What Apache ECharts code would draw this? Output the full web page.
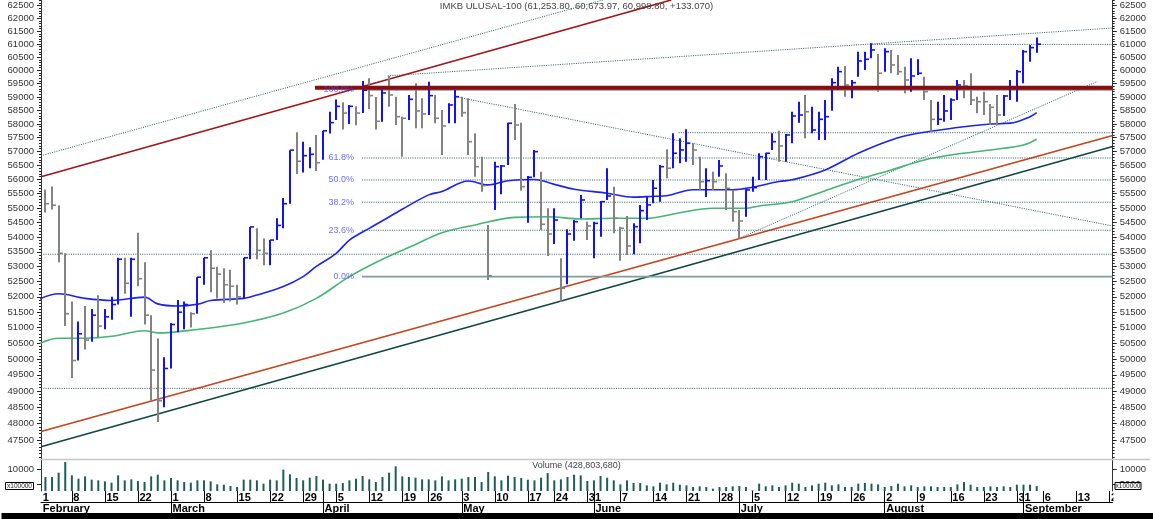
<!DOCTYPE html>
<html><head><meta charset="utf-8">
<script src="https://cdn.jsdelivr.net/npm/echarts@6/dist/echarts.min.js"></script>
<style>html,body{margin:0;padding:0;background:#fff}#c{width:1153px;height:519px}</style>
</head><body><div id="c"></div>
<script>
// ---------- DATA (index = trading day, 0 = 1 Feb) ----------
const highs = [null,
55650,55750,55100,53450,51850,51200,51700,51600,52050,51600,
52000,53300,53300,53300,54150,53150,51400,50650,50050,51150,
51900,51850,51500,52650,53300,53550,53000,52950,52900,52400,
53300,54350,54300,53950,53900,54650,55350,57050,57700,57350,
57150,57600,57750,58450,58900,58800,58700,58650,59600,59700,
59000,59324,59786,59009,58268,59073,59511,58950,59570,59073,
58516,58764,59260,59009,58950,57659,56815,54415,56635,56518,
58047,58738,58047,56126,57056,56279,54993,54993,53284,54268,
54586,55458,54528,54528,55247,56401,55749,54357,54721,54473,
55108,55400,55984,56518,57081,57659,57478,57806,57297,56815,
56401,56279,56696,56221,55633,54934,55658,56101,56937,56959,
57659,57756,57635,58453,58823,59073,58638,58453,58886,59699,
60139,60165,59634,60712,60712,61034,60623,60842,60777,60585,
60139,60458,60420,59759,58886,58823,59073,58950,59634,59634,
59888,59009,59197,58738,59073,59073,59634,60013,60777,60969,
61253.8];
const lows = [null,
54850,54950,53150,51050,49400,49950,50300,50550,50700,50950,
51250,51750,52100,51350,52350,51100,48700,48050,48500,49700,
50850,50950,51000,51450,52400,52150,51950,51800,51850,51750,
51950,53250,53250,53050,53050,53900,54300,55150,56200,56250,
56400,56300,56700,57650,58150,57800,58000,57950,58400,58550,
57800,58084,58638,57963,56815,58146,57843,57843,58331,58026,
56876,58026,58026,58268,56876,56101,55573,52555,54934,55482,
56518,57416,55608,54494,56085,54244,53362,53767,51841,52414,
53878,54645,53902,53284,54015,55282,54131,53203,53396,53419,
53791,54586,55167,55223,56044,56401,56579,56635,56518,55633,
55387,55633,56101,54934,54528,53940,54701,55573,55984,55984,
57056,56635,56635,57297,58047,57478,57660,57416,57416,58490,
59260,59009,58950,59759,60013,60458,59197,59949,59888,59823,
59137,59197,59823,58886,57700,57963,58084,58146,58886,58950,
58701,58394,58331,57963,57963,58294,58886,58823,59511,60328,
60673.97];
const closes = [null,
55150,55100,53450,51450,49950,50800,50600,51400,51050,51350,
51750,53250,52450,53250,52600,51400,49650,48700,49700,51100,
51500,51750,51450,52650,53300,52950,52750,52400,52350,52000,
53300,54350,53550,53450,53900,54400,55150,57050,56650,56850,
56900,56600,57750,58050,58650,58400,58650,58400,59250,59050,
58100,59150,59073,58268,58209,58912,58479,58368,59047,58209,
57927,58701,59009,58416,57355,56457,55784,52700,56457,56482,
58026,57963,55749,56080,56995,54439,54107,54586,52282,54107,
54528,55282,54381,54473,55223,55422,54645,54302,53700,54357,
54910,55108,55693,56457,56401,56937,57056,57297,57056,55924,
55959,55924,56482,55693,54875,54552,55633,55714,56815,56937,
57355,57200,57599,58294,58330,58453,57781,58172,58268,59533,
59949,59447,59533,60355,60420,60777,59888,60712,60203,59949,
59634,59786,59888,59197,58172,58172,58479,58886,59447,59410,
58886,58823,58823,58616,58331,59035,59324,59949,60712,60866,
60998.8];
// 1 = blue (up) bar, 0 = grey (down) bar
const barUp = [null,
0,0,0,0,0,1,0,1,0,1, 1,1,0,1,0,0,0,0,1,1, 1,1,0,1,1,0,0,0,0,0,
1,1,0,0,1,1,1,1,0,1, 1,0,1,1,1,0,1,0,1,0, 0,1,0,0,0,1,0,0,1,0,
0,1,1,0,0,0,0,0,1,1, 1,0,0,1,1,0,0,1,0,1, 1,1,0,1,1,1,0,0,0,1,
1,1,1,1,0,1,1,1,0,0, 1,0,1,0,0,0,1,1,1,1, 1,0,1,1,1,0,1,1,1,1,
1,0,1,1,1,1,0,1,0,0, 0,1,1,0,0,1,1,1,1,0, 0,0,0,0,0,1,1,1,1,1,1];
// volume in units of 100,000
const volumes = [null,
7379,7379,8852,12477,7945,6812,7605,6472,6246,5906,
5453,7945,6246,6586,6019,5679,7605,8172,6246,7039,
6246,5679,5453,6246,6246,5906,4886,4773,4320,3980,
6472,6472,6246,5113,6472,6246,9871,8285,7039,6246,
7152,7719,6472,5113,5113,5339,6246,6812,7719,6586,
5679,7379,8852,11004,
7605,7379,7152,6586,6586,6246,7605,6246,6586,6812,
7379,7379,5679,9078,7605,6246,7832,7379,7039,6472,
6246,7152,8738,6246,6586,7379,8172,7945,6019,6246,
7719,7152,6246,4886,6246,5339,5339,4546,4206,5453,
4886,5453,4773,4546,3980,4206,3980,3413,3980,3980,
4206,4320,3980,2847,5113,4206,4546,3980,
4546,5453,5113,3980,4546,5113,5453,4546,4886,3980,
3980,5113,5339,5113,4886,3980,4320,5113,4206,4546,
3980,4206,4206,3980,3980,3980,4886,5679,4773,3980,
3980,4206,3980,4206,3980,4773,4773,4773,4288];
// moving averages: [day index, value]
const blueMA = [[0,51920],[3,52100],[7,51950],[11,51880],[16,51990],[18,51770],[21,51700],[24,51760],[26,51880],[31,51950],[33,52060],[37,52340],[40,52670],[42,53010],[45,53450],[47,53900],[50,54300],[52,54560],[55,54960],[59,55460],[61,55580],[65,55950],[68,55810],[71,55960],[75,56000],[78,55830],[81,55660],[86,55520],[90,55380],[93,55410],[95,55430],[99,55640],[105,55640],[108,55730],[112,55930],[114,55990],[119,56340],[124,56940],[129,57420],[133,57660],[139,57870],[144,58000],[147,58030],[150,58270],[151,58420]];
const greenMA = [[0,50480],[3,50660],[7,50660],[11,50720],[16,50900],[18,50830],[24,50940],[31,51150],[37,51470],[42,51950],[47,52670],[52,53250],[57,53750],[61,54150],[66,54415],[72,54676],[77,54697],[82,54621],[87,54645],[92,54645],[97,54840],[102,54993],[107,54993],[109,55073],[114,55223],[119,55608],[124,56000],[129,56340],[134,56696],[139,56910],[144,57056],[149,57236],[151,57442]];
// drawn lines: [[day index, value], [day index, value]]
const chanTopDotted = [[0.33,56850],[85.4,62725]];
const chanTopRed = [[0.33,56100],[95.7,62725]];
const chanLowOrange = [[0.33,47760],[162.5,57580]];
const chanLowDark = [[0.33,47300],[162.5,57180]];
const riseFromAprHigh = [[52.8,59790],[162.5,61625]];
const fallFromAprHigh = [[63.0,59010],[162.5,54380]];
const riseFromJulLow = [[106,53960],[160.1,59570]];
const level53400 = [[0.33,53420],[162.5,53420]];
const level49100 = [[0.33,49080],[162.5,49080]];
const level61000 = [[125.8,60990],[162.5,60990]];
const level57700 = [[96.8,57680],[162.5,57680]];
const resistance = [[41.8,59345],[162.5,59345]];
const fibLevels = [59265,56767,55985,55203,54235,52670];
const fibNames = ['100.0%','61.8%','50.0%','38.2%','23.6%','0.0%'];
const fibStart = 48.9, fibLabelAt = 48.0;
// axis ticks & labels
const priceTicks = [47500,48000,48500,49000,49500,50000,50500,51000,51500,52000,52500,53000,53500,54000,54500,55000,55500,56000,56500,57000,57500,58000,58500,59000,59500,60000,60500,61000,61500,62000,62500];
const weekIdx = [0,5,10,15,20,25,30,35,40,45,50,55,59,64,69,74,78,83,88,93,98,103,108,113,118,123,128,133,138,143,148,152,157,162];
const weekDay = ['1','8','15','22','1','8','15','22','29','5','12','19','26','3','10','17','24','31','7','14','21','28','5','12','19','26','2','9','16','23','31','6','13','20'];
const monthIdx = [0,20,43,64,84,106,128,149];
const monthName = ['February','March','April','May','June','July','August','September'];
const titleText = 'IMKB ULUSAL-100 (61,253.80, 60,673.97, 60,998.80, +133.070)';
const volTitle = 'Volume (428,803,680)';

// ---------- CHART ----------
const XMIN = 0.33, XMAX = 162.5, PMIN = 46938, PMAX = 62725, VMIN = 2620, VMAX = 13333;
const UP = '#1212f2', DOWN = '#838383', TEAL = '#1f5f5f';
const priceMinor = []; for (let v = 47000; v <= 62700; v += 100) priceMinor.push(v);
const FONT = 'Liberation Sans, Arial, sans-serif';

const bars = [];
for (let i = 1; i < highs.length; i++) bars.push([i, highs[i], lows[i], closes[i], barUp[i]]);
const vols = [];
for (let i = 1; i < volumes.length; i++) vols.push([i, volumes[i]]);

function seg(pts, color, width, type, z) {
  return {type:'line', xAxisIndex:0, yAxisIndex:0, data:pts, symbol:'none', clip:true, silent:true,
    z: z || 2, lineStyle:{color:color, width:width, type:type || 'solid'}, animation:false};
}
const DOT = [1, 1.3];
const series = [
  seg(level53400, TEAL, 1, DOT), seg(level49100, TEAL, 1, DOT),
  seg(level61000, TEAL, 1, DOT), seg(level57700, TEAL, 1, DOT),
  seg(chanTopDotted, TEAL, 1, DOT), seg(riseFromAprHigh, TEAL, 1, DOT),
  seg(fallFromAprHigh, TEAL, 1, DOT), seg(riseFromJulLow, TEAL, 1, DOT),
  seg(chanTopRed, '#a41414', 1.6), seg(chanLowOrange, '#c8421c', 1.6), seg(chanLowDark, '#0f4646', 1.6)
];
fibLevels.forEach((v, k) => {
  const pts = [[fibStart, v], [XMAX, v]];
  if (k === 0) series.push(seg(pts, '#4f6b6b', 1.3));
  else if (k === fibLevels.length - 1) series.push(seg(pts, '#7a9f9f', 1.8));
  else series.push(seg(pts, TEAL, 1, DOT));
});
series.push({type:'line', xAxisIndex:0, yAxisIndex:0, data:greenMA, symbol:'none', smooth:0.35, clip:true, silent:true, z:3,
  lineStyle:{color:'#45b574', width:1.6}});
series.push({type:'line', xAxisIndex:0, yAxisIndex:0, data:blueMA, symbol:'none', smooth:0.35, clip:true, silent:true, z:3,
  lineStyle:{color:'#1c22f0', width:1.6}});
series.push({type:'custom', xAxisIndex:0, yAxisIndex:0, data:bars, clip:true, silent:true, z:4,
  dimensions:['x','h','l','c','u'], encode:{x:0, y:[1,2,3]},
  renderItem:function(params, api){
    const x = api.value(0);
    const ph = api.coord([x, api.value(1)]);
    const pl = api.coord([x, api.value(2)]);
    const pc = api.coord([x, api.value(3)]);
    const col = api.value(4) ? UP : DOWN;
    const px = Math.round(ph[0]);
    return {type:'group', children:[
      {type:'line', shape:{x1:px, y1:ph[1], x2:px, y2:pl[1]}, style:{stroke:col, lineWidth:2}},
      {type:'line', shape:{x1:px, y1:pc[1], x2:px + 4, y2:pc[1]}, style:{stroke:col, lineWidth:1.6}}
    ]};
  }});
series.push(seg(resistance, '#8a0c0c', 4, 'solid', 5));
series.push({type:'scatter', xAxisIndex:0, yAxisIndex:0, symbolSize:0, silent:true, z:10,
  data: fibLevels.map((v, k) => [fibLabelAt, v, fibNames[k]]),
  label:{show:true, position:'left', distance:2, formatter:p => p.value[2], color:'#4646ff', fontSize:9, fontFamily:FONT}});
series.push({type:'bar', xAxisIndex:1, yAxisIndex:4, data:vols, barWidth:2, silent:true,
  itemStyle:{color:'#1f5c5c'}});

function priceAxis(pos, minor) {
  return {type:'log', gridIndex:0, position:pos, min:PMIN, max:PMAX,
    axisLine:{show:!minor, lineStyle:{color:'#333', width:1}},
    axisTick:{show:true, customValues: minor ? priceMinor : priceTicks, length: minor ? 2 : 4, lineStyle:{color:'#222', width:1}},
    axisLabel: minor ? {show:false} : {show:true, customValues:priceTicks, formatter:v => String(Math.round(v)),
      fontSize:9.5, color:'#333', margin:7, fontFamily:FONT},
    splitLine:{show:false}, minorTick:{show:false}};
}
function volAxis(pos, labels) {
  return {type:'value', gridIndex:1, position:pos, min:VMIN, max:VMAX,
    axisLine:{show:true, lineStyle:{color:'#333', width:1}},
    axisTick:{show:true, customValues:[5000,10000], length:4, lineStyle:{color:'#222'}},
    axisLabel:{show:true, customValues:labels, formatter:v => String(Math.round(v)), fontSize:9.5, color:'#333', margin:7, fontFamily:FONT},
    splitLine:{show:false}};
}
const dayTicks = weekIdx.filter(i => i > 0).concat(monthIdx.filter(i => i > 0));
const labelPos = i => (i === 0 ? XMIN + 0.05 : i);

const option = {
  animation:false,
  backgroundColor:'#ffffff',
  textStyle:{fontFamily:FONT},
  title:[
    {text:titleText, left:'center', top:1, padding:0, textStyle:{fontSize:9.5, fontWeight:'normal', color:'#444', fontFamily:FONT}},
    {text:volTitle, left:'center', top:461.5, padding:0, textStyle:{fontSize:9, fontWeight:'normal', color:'#444', fontFamily:FONT}}
  ],
  grid:[
    {left:41, right:40.3, top:0, height:459, outerBoundsMode:'none', containLabel:false},
    {left:41, right:40.3, top:459.5, height:31.5, outerBoundsMode:'none', containLabel:false}
  ],
  xAxis:[
    {type:'value', gridIndex:0, min:XMIN, max:XMAX, show:false},
    {type:'value', gridIndex:1, min:XMIN, max:XMAX, position:'bottom',
      axisLine:{show:false},
      axisTick:{show:true, customValues:dayTicks, length:11, lineStyle:{color:'#000', width:1}},
      axisLabel:{show:true, customValues:weekIdx.map(labelPos), align:'left', margin:1, padding:[0,0,0,1.5],
        formatter:v => { const k = weekIdx.indexOf(Math.round(v)); return k >= 0 ? weekDay[k] : ''; },
        fontSize:11, fontWeight:'bold', color:'#000', fontFamily:FONT},
      splitLine:{show:false}},
    {type:'value', gridIndex:1, min:XMIN, max:XMAX, position:'bottom', offset:11,
      axisLine:{show:true, lineStyle:{color:'#000', width:1}},
      axisTick:{show:true, customValues:monthIdx.filter(i => i > 0), length:11, lineStyle:{color:'#000', width:1}},
      axisLabel:{show:true, customValues:monthIdx.map(labelPos), align:'left', margin:1, padding:[0,0,0,1.5],
        formatter:v => { const k = monthIdx.indexOf(Math.round(v)); return k >= 0 ? monthName[k] : ''; },
        fontSize:11, fontWeight:'bold', color:'#000', fontFamily:FONT},
      splitLine:{show:false}}
  ],
  yAxis:[
    priceAxis('left', false), priceAxis('left', true),
    priceAxis('right', false), priceAxis('right', true),
    volAxis('left', [10000]), volAxis('right', [5000,10000])
  ],
  series:series,
  graphic:[
    {type:'line', shape:{x1:40, y1:459.5, x2:1150, y2:459.5}, style:{stroke:'#c6c6c6', lineWidth:1.5}, z:50, silent:true},
    {type:'rect', shape:{x:1113.5, y:491.6, width:39.5, height:21}, style:{fill:'#fff'}, z:50, silent:true},
    {type:'rect', shape:{x:1.5, y:513, width:1151.5, height:6}, style:{fill:'#000'}, z:50, silent:true},
    {type:'rect', shape:{x:5.5, y:482.5, width:28, height:7}, style:{fill:'#fff', stroke:'#000', lineWidth:1}, z:60, silent:true},
    {type:'text', x:19.5, y:486, style:{text:'x100000', fontSize:6.5, fill:'#222', align:'center', verticalAlign:'middle', fontFamily:FONT}, z:61, silent:true},
    {type:'rect', shape:{x:1115, y:482.5, width:26, height:7}, style:{fill:'#fff', stroke:'#000', lineWidth:1}, z:60, silent:true},
    {type:'text', x:1128, y:486, style:{text:'x100000', fontSize:6.5, fill:'#222', align:'center', verticalAlign:'middle', fontFamily:FONT}, z:61, silent:true}
  ]
};
const chart = echarts.init(document.getElementById('c'), null, {renderer:'canvas', width:1153, height:519});
chart.setOption(option);
</script>
</body></html>
